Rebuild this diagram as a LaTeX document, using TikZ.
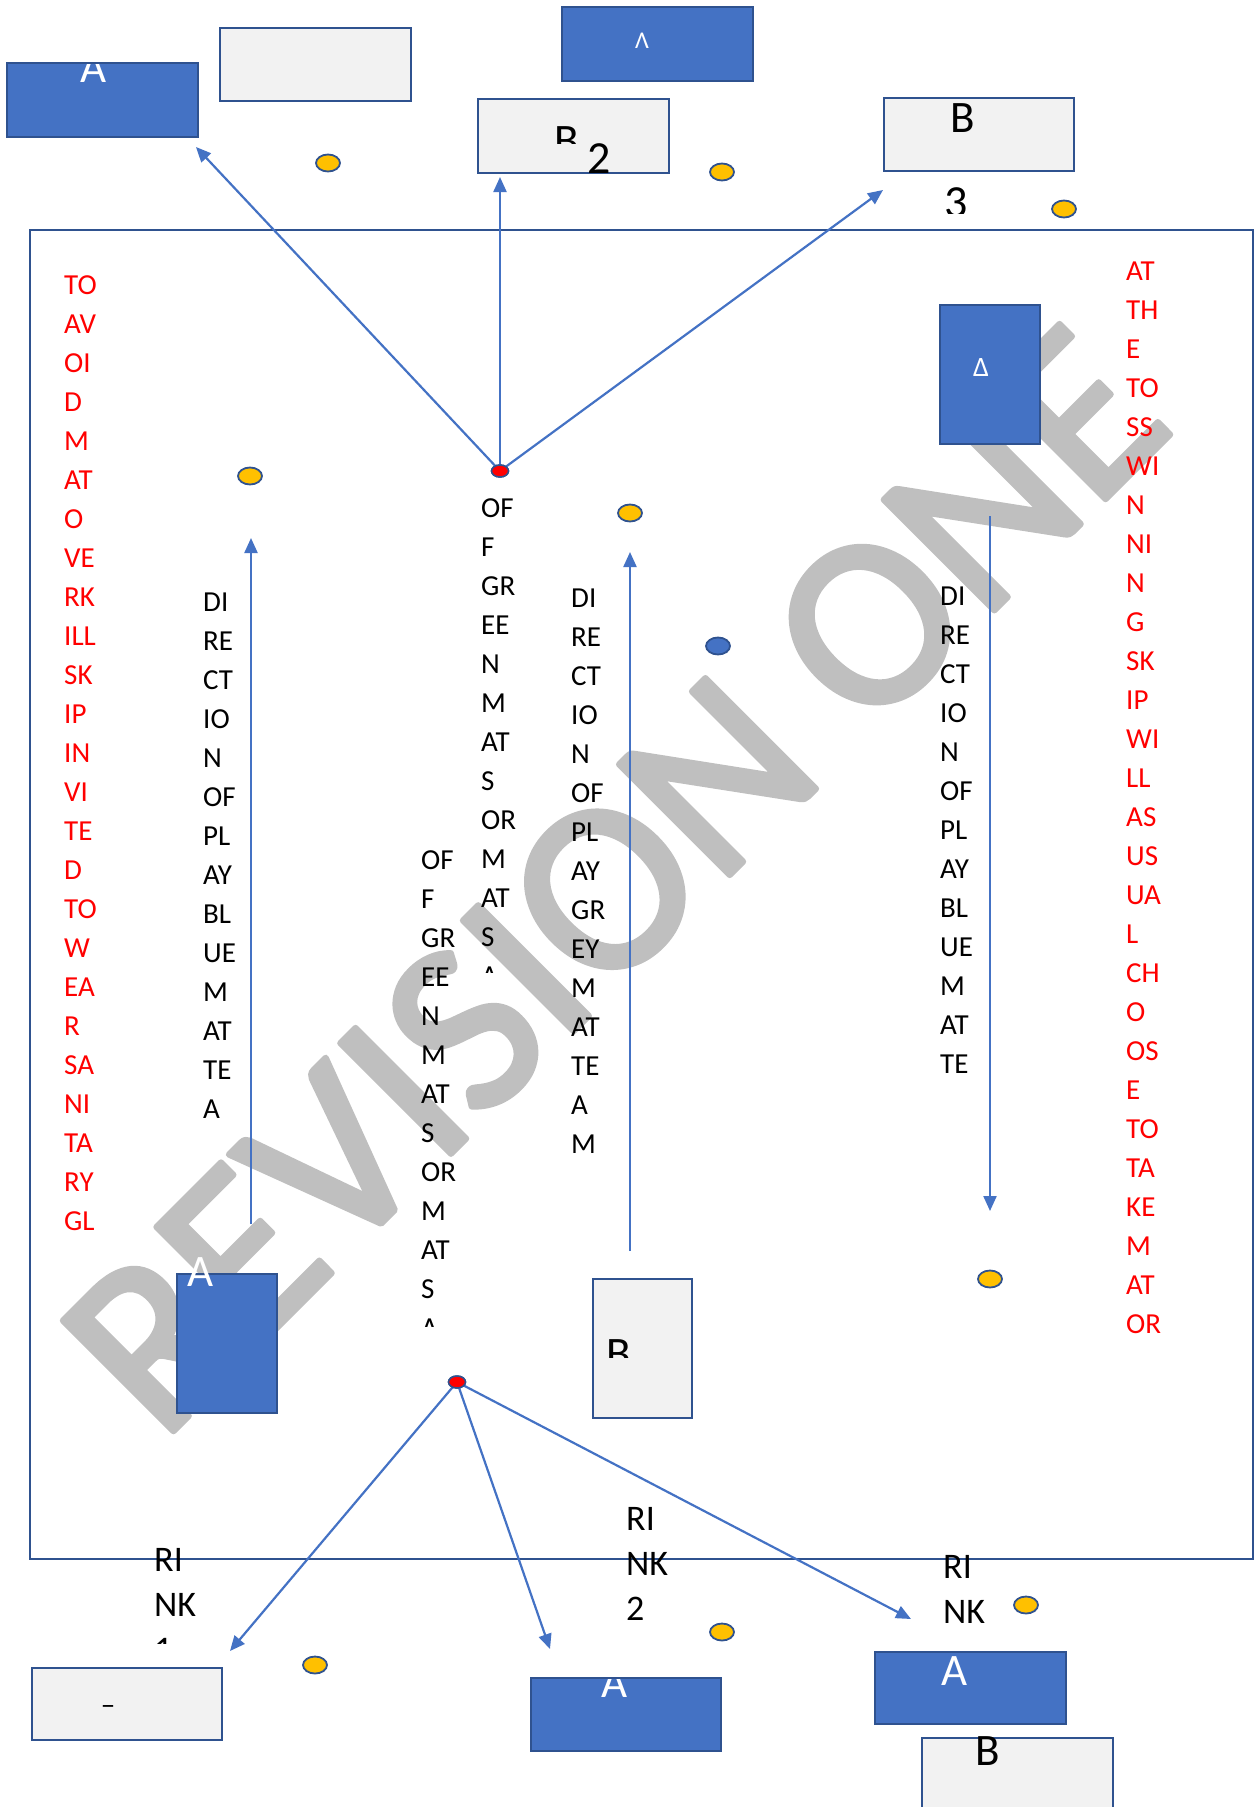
\documentclass[tikz,border=0pt]{standalone}
\usepackage{fontspec}
\setmainfont{Carlito}
\usetikzlibrary{arrows.meta,shapes.geometric}
\definecolor{bfill}{HTML}{4472C4}
\definecolor{bline}{HTML}{2F528F}
\definecolor{gfill}{HTML}{F2F2F2}
\definecolor{wmgray}{HTML}{BFBFBF}
\definecolor{yel}{HTML}{FFC000}
\newcommand\wln[1]{\hbox{#1}}
\newcommand\colstack[2][39pt]{\vtop{\baselineskip=#1\lineskiplimit=-100pt\lineskip=0pt #2}}
\newcommand\colfont{\fontsize{29}{39}\selectfont}
\newcommand\boxfont{\fontsize{45}{54}\selectfont}
\newcommand\rinkfont{\fontsize{36}{45}\selectfont}
\newcommand\strokedtext[1]{\special{pdf:literal direct 0.749 0.749 0.749 RG 2 Tr 6 w 1 j 1 J}#1\special{pdf:literal direct 0 Tr}}
\tikzset{
  bluebox/.style={draw=bline, fill=bfill, line width=2.5pt, inner sep=0pt},
  greybox/.style={draw=bline, fill=gfill, line width=2.5pt, inner sep=0pt},
  frm/.style={draw=bline, line width=2.5pt, inner sep=0pt},
  conn/.style={draw=bfill, line width=2.2pt, -{Triangle[length=15pt,width=13pt]}},
  ydot/.style={ellipse, draw=bline, fill=yel, line width=1.8pt, minimum width=24pt, minimum height=17pt, inner sep=0pt},
  bdot/.style={ellipse, draw=bline, fill=bfill, line width=1.8pt, minimum width=24pt, minimum height=17pt, inner sep=0pt},
  rdot/.style={ellipse, draw=bline, fill=red, line width=1.5pt, minimum width=17pt, minimum height=12pt, inner sep=0pt},
  coltext/.style={anchor=base west, inner sep=0pt, font=\colfont},
  rink/.style={anchor=base west, inner sep=0pt, font=\rinkfont},
  blabel/.style={anchor=base, inner sep=0pt, font=\boxfont},
  wlabel/.style={anchor=base, inner sep=0pt, font=\boxfont, text=white},
}
\begin{document}
\begin{tikzpicture}[x=1pt,y=-1pt]
\useasboundingbox (0,0) rectangle (1255,1807);
% watermark
\node[inner sep=0pt, rotate=45, text=wmgray, font=\fontsize{244}{244}\selectfont] (wm) at (614,880) {\strokedtext{REVISION ONE}};
% frame
\node[frm, minimum width=1223pt, minimum height=1329pt] (frame) at (641.5,894.5) {};
% column texts
\node[coltext, text=red] (redL) at (64,294) {\colstack{\wln{TO}\wln{AV}\wln{OI}\wln{D}\wln{M}\wln{AT}\wln{O}\wln{VE}\wln{RK}\wln{ILL}\wln{SK}\wln{IP}\wln{IN}\wln{VI}\wln{TE}\wln{D}\wln{TO}\wln{W}\wln{EA}\wln{R}\wln{SA}\wln{NI}\wln{TA}\wln{RY}\wln{GL}}};
\node[coltext] (blkL) at (203,611) {\colstack{\wln{DI}\wln{RE}\wln{CT}\wln{IO}\wln{N}\wln{OF}\wln{PL}\wln{AY}\wln{BL}\wln{UE}\wln{M}\wln{AT}\wln{TE}\wln{A}}};
\begin{scope}
\clip (400,480) rectangle (560,972);
\node[coltext] (cTop) at (481,517) {\colstack{\wln{OF}\wln{F}\wln{GR}\wln{EE}\wln{N}\wln{M}\wln{AT}\wln{S}\wln{OR}\wln{M}\wln{AT}\wln{S}\wln{A}}};
\end{scope}
\begin{scope}
\clip (400,830) rectangle (520,1326);
\node[coltext] (cLow) at (421,869) {\colstack{\wln{OF}\wln{F}\wln{GR}\wln{EE}\wln{N}\wln{M}\wln{AT}\wln{S}\wln{OR}\wln{M}\wln{AT}\wln{S}\wln{A}}};
\end{scope}
\node[coltext] (cRight) at (571,607) {\colstack{\wln{DI}\wln{RE}\wln{CT}\wln{IO}\wln{N}\wln{OF}\wln{PL}\wln{AY}\wln{GR}\wln{EY}\wln{M}\wln{AT}\wln{TE}\wln{A}\wln{M}}};
\node[coltext] (blkR) at (940,605) {\colstack{\wln{DI}\wln{RE}\wln{CT}\wln{IO}\wln{N}\wln{OF}\wln{PL}\wln{AY}\wln{BL}\wln{UE}\wln{M}\wln{AT}\wln{TE}}};
\node[coltext, text=red] (redR) at (1126,280) {\colstack{\wln{AT}\wln{TH}\wln{E}\wln{TO}\wln{SS}\wln{WI}\wln{N}\wln{NI}\wln{N}\wln{G}\wln{SK}\wln{IP}\wln{WI}\wln{LL}\wln{AS}\wln{US}\wln{UA}\wln{L}\wln{CH}\wln{O}\wln{OS}\wln{E}\wln{TO}\wln{TA}\wln{KE}\wln{M}\wln{AT}\wln{OR}}};
% RINK labels
\begin{scope}
\clip (130,1500) rectangle (260,1643);
\node[rink] (rink1) at (154,1571) {\colstack[45pt]{\wln{RI}\wln{NK}\wln{1}}};
\end{scope}
\node[rink] (rink2) at (626,1530) {\colstack[45pt]{\wln{RI}\wln{NK}\wln{2}}};
\node[rink] (rink3) at (943,1578) {\colstack[45pt]{\wln{RI}\wln{NK}}};
% connectors from top hub
\node[rdot] (hubT) at (500,471) {};
\coordinate (tA) at (196,147);
\coordinate (tUp) at (500,177);
\coordinate (tB3) at (883,190);
\draw[conn] (hubT.center) -- (tA);
\draw[conn] (hubT.center) -- (tUp);
\draw[conn] (hubT.center) -- (tB3);
\node[rdot] at (hubT) {};
% connectors from bottom hub
\node[rdot] (hubB) at (457,1382) {};
\coordinate (tBL) at (230,1651);
\coordinate (tBM) at (550,1649);
\coordinate (tBR) at (911,1619);
\draw[conn] (hubB.center) -- (tBL);
\draw[conn] (hubB.center) -- (tBM);
\draw[conn] (hubB.center) -- (tBR);
\node[rdot] at (hubB) {};
% vertical direction arrows
\coordinate (vL1) at (251,1224);
\coordinate (vL2) at (251,538);
\coordinate (vM1) at (630,1251);
\coordinate (vM2) at (630,552);
\coordinate (vR1) at (990,516);
\coordinate (vR2) at (990,1211);
\draw[conn] (vL1) -- (vL2);
\draw[conn] (vM1) -- (vM2);
\draw[conn] (vR1) -- (vR2);
% boxes
\node[bluebox, minimum width=191pt, minimum height=74pt] (bA) at (102.5,100) {};
\node[greybox, minimum width=191pt, minimum height=73pt] (gT) at (315.5,64.5) {};
\node[bluebox, minimum width=191pt, minimum height=74pt] (bT) at (657.5,44) {};
\node[greybox, minimum width=191pt, minimum height=74pt] (gB2) at (573.5,136) {};
\node[greybox, minimum width=190pt, minimum height=73pt] (gB3) at (979,134.5) {};
\node[bluebox, minimum width=100pt, minimum height=139pt] (bR) at (990,374.5) {};
\node[bluebox, minimum width=100pt, minimum height=139pt] (bL) at (227,1343.5) {};
\node[greybox, minimum width=99pt, minimum height=139pt] (gR) at (642.5,1348.5) {};
\node[greybox, minimum width=190pt, minimum height=72pt] (gBL) at (127,1704) {};
\node[bluebox, minimum width=190pt, minimum height=73pt] (bBM) at (626,1714.5) {};
\node[bluebox, minimum width=191pt, minimum height=72pt] (bBR) at (970.5,1688) {};
\node[greybox, minimum width=191pt, minimum height=74pt] (gBR) at (1017.5,1775) {};
% box labels
\begin{scope}
\clip (8,64) rectangle (197,136);
\node[wlabel] (lA) at (94,82) {A};
\end{scope}
\node[anchor=base, inner sep=0pt, text=white, font=\fontsize{24}{28}\selectfont] (lT) at (642,48) {Λ};
\begin{scope}
\clip (480,100) rectangle (668,143);
\node[blabel] (lB2) at (567,155) {B};
\end{scope}
\node[anchor=base, inner sep=0pt, font=\fontsize{46}{54}\selectfont] (l2) at (599,173) {2};
\node[blabel] (lB3) at (963,132) {B};
\begin{scope}
\clip (920,175) rectangle (1000,213);
\node[anchor=base, inner sep=0pt, font=\fontsize{46}{54}\selectfont] (l3) at (956,217) {3};
\end{scope}
\node[anchor=base, inner sep=0pt, text=white, font=\fontsize{28}{32}\selectfont] (lR) at (981,376) {Δ};
\node[wlabel] (lL) at (201,1286) {A};
\begin{scope}
\clip (594,1280) rectangle (691,1357);
\node[blabel] (lBR) at (619,1368) {B};
\end{scope}
\node[anchor=center, inner sep=0pt, font=\colfont] (lBL) at (108,1710) {–};
\begin{scope}
\clip (532,1679) rectangle (720,1750);
\node[wlabel] (lBM) at (615,1697) {A};
\end{scope}
\node[wlabel] (lBRA) at (955,1685) {A};
\node[blabel] (lBRB) at (988,1765) {B};
% dots
\node[ydot] (y1) at (328,163) {};
\node[ydot] (y2) at (722,172) {};
\node[ydot] (y3) at (1064,209) {};
\node[ydot] (y4) at (250,476) {};
\node[ydot] (y5) at (630,513) {};
\node[bdot] (b1) at (718,646) {};
\node[ydot] (y6) at (990,1279) {};
\node[ydot] (y7) at (315,1665) {};
\node[ydot] (y8) at (722,1632) {};
\node[ydot] (y9) at (1026,1605) {};
\end{tikzpicture}
\end{document}
